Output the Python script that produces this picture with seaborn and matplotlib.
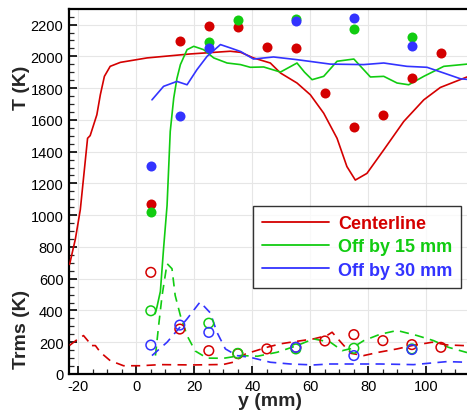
import numpy as np
import pandas as pd
import matplotlib
matplotlib.use("Agg")
import matplotlib.pyplot as plt
from matplotlib.lines import Line2D
from matplotlib.ticker import MultipleLocator
import seaborn as sns

# ---------------- data ----------------
# measured mean temperature T (filled symbols)
x_red_pts = [5, 15, 25, 35, 45, 55, 65, 75, 85, 95, 105]
T_red_pts = [1070, 2095, 2193, 2183, 2057, 2051, 1770, 1555, 1629, 1864, 2020]
x_grn_pts = [5, 25, 35, 55, 75, 95]
T_grn_pts = [1018, 2089, 2229, 2235, 2172, 2124]
x_blu_pts = [5, 15, 25, 55, 75, 95]
T_blu_pts = [1312, 1627, 2051, 2221, 2242, 2064]

# measured Trms (open symbols)
Trms_red_pts = [640, 283, 147, 128, 158, 168, 208, 248, 210, 185, 168]
Trms_grn_pts = [398, 320, 130, 158, 162, 158]
Trms_blu_pts = [182, 308, 262, 168, 116, 154]

# computed mean T (solid lines)
x_red_T = [-23, -21, -19.3, -16.8, -15.9, -13.6, -12.4, -11, -9, -5.5, 3.7, 18.6,
           32.4, 36, 40.4, 46.2, 49.7, 55.4, 60, 64.6, 69.2, 72.6, 75.5, 79.5,
           85.3, 92.2, 99.1, 104.8, 114]
T_red_T = [690, 850, 1035, 1484, 1501, 1632, 1758, 1874, 1937, 1962, 1990, 2015,
           2032, 2025, 1990, 1958, 1895, 1832, 1758, 1642, 1484, 1306, 1221, 1263,
           1411, 1590, 1726, 1804, 1870]
x_grn_T = [6.5, 7.1, 8.3, 9.4, 10.6, 11.7, 12.9, 14, 15.2, 17.5, 19.8, 23.2, 26.7,
           31.3, 35.9, 39.3, 43.9, 49.7, 55.4, 58, 60.6, 64.6, 69.2, 75, 80.7,
           85.3, 89.9, 93.9, 99.1, 106, 114]
T_grn_T = [380, 420, 520, 790, 1060, 1527, 1737, 1860, 1948, 2042, 2063, 2042, 1990,
           1958, 1948, 1931, 1933, 1901, 1958, 1900, 1853, 1874, 1969, 1983, 1870,
           1874, 1832, 1821, 1874, 1937, 1951]
x_blu_T = [5.4, 9.4, 14, 17.5, 20.9, 24.4, 29, 32.4, 36, 40.4, 47.3, 55.4, 66.9,
           78.4, 85.3, 93.3, 100.2, 106, 111.7, 114]
T_blu_T = [1726, 1811, 1842, 1821, 1916, 2000, 2074, 2053, 2030, 1983, 1996, 1979,
           1951, 1948, 1958, 1937, 1931, 1895, 1859, 1855]

# computed Trms (dashed lines)
x_red_rms = [-23, -20.5, -18.2, -16.5, -15.9, -14.1, -12.4, -9, -4.4, 1.4, 8.3,
             19.8, 30, 33.6, 37.6, 45, 49.7, 55, 61.1, 65.7, 67.5, 71, 74, 78.4,
             83.6, 89.9, 95.1, 102, 107.1, 114]
T_red_rms = [180, 215, 242, 205, 179, 179, 137, 84, 52, 52, 59, 57, 60, 75, 126,
             168, 190, 205, 221, 242, 263, 190, 130, 116, 137, 158, 179, 200, 183, 178]
x_grn_rms = [6.6, 7.7, 8.9, 10.6, 12.3, 13.4, 15.2, 17.5, 20.3, 24.4, 30.1, 35.9,
             41.8, 48.6, 55.4, 61.1, 66.9, 71, 74, 78.4, 84, 89.9, 96.8, 102.5,
             107.6, 114]
T_grn_rms = [116, 305, 495, 695, 663, 495, 368, 242, 145, 100, 99, 116, 112, 137,
             179, 221, 200, 147, 160, 210, 250, 274, 242, 210, 168, 135]
x_blu_rms = [5.4, 10.6, 17.5, 21.5, 22, 25.5, 27.8, 30.7, 34.7, 39.3, 46.2, 53.1,
             61.1, 66.9, 74.9, 84.1, 95.6, 107.1, 114]
T_blu_rms = [116, 200, 347, 442, 453, 385, 263, 158, 116, 105, 74, 63, 57, 63, 63,
             63, 59, 78, 74]

labels = ["Centerline", "Off by 15 mm", "Off by 30 mm"]
colors = ["#d40000", "#11cc11", "#3333ff"]

# ---------------- style ----------------
sns.set_style("white")
plt.rcParams["font.family"] = ["Liberation Sans", "DejaVu Sans"]
plt.rcParams["axes.unicode_minus"] = False

fig = plt.figure(figsize=(4.67, 4.14), dpi=100)
ax = fig.add_axes([69 / 467, 39 / 414, 398 / 467, 365 / 414])

dash = (0, (5.5, 3.8))
series = [
    (x_red_T, T_red_T, x_red_rms, T_red_rms, x_red_pts, T_red_pts, x_red_pts, Trms_red_pts),
    (x_grn_T, T_grn_T, x_grn_rms, T_grn_rms, x_grn_pts, T_grn_pts, x_grn_pts, Trms_grn_pts),
    (x_blu_T, T_blu_T, x_blu_rms, T_blu_rms, x_blu_pts, T_blu_pts, x_blu_pts, Trms_blu_pts),
]

for (xl, yl, xd, yd, xp, yp, xo, yo), c in zip(series, colors):
    sns.lineplot(x=xl, y=yl, color=c, lw=1.2, ax=ax, zorder=3)
    sns.lineplot(x=xd, y=yd, color=c, lw=1.2, linestyle=dash, ax=ax, zorder=3)

for (xl, yl, xd, yd, xp, yp, xo, yo), c in zip(series, colors):
    sns.scatterplot(x=xo, y=yo, color=c, facecolor="none", edgecolor=c,
                    linewidth=1.1, s=48, ax=ax, zorder=4)
for (xl, yl, xd, yd, xp, yp, xo, yo), c in zip(series, colors):
    sns.scatterplot(x=xp, y=yp, color=c, edgecolor=c, linewidth=0.0,
                    s=52, ax=ax, zorder=5)

ax.set_xlim(-23.2, 114.0)
ax.set_ylim(0, 2298)
ax.xaxis.set_major_locator(MultipleLocator(20))
ax.xaxis.set_minor_locator(MultipleLocator(5))
ax.yaxis.set_major_locator(MultipleLocator(200))
ax.yaxis.set_minor_locator(MultipleLocator(50))
ax.grid(True, which="major", color="#e6e6e6", lw=0.8, zorder=0)
ax.set_axisbelow(True)

ax.tick_params(which="major", direction="in", length=6, width=1.2,
               labelsize=10.5, pad=4, colors="black", left=True, bottom=True)
ax.tick_params(which="minor", direction="in", length=3.5, width=0.9,
               left=True, bottom=True)
ax.tick_params(axis="x", pad=3.5)

for side in ["left", "bottom", "top"]:
    ax.spines[side].set_linewidth(1.6)
    ax.spines[side].set_color("black")
ax.spines["right"].set_visible(False)

ax.set_xlabel("")
ax.set_ylabel("")

fig.text(0.0465, 0.7886, "T (K)", rotation=90, fontsize=14, fontweight="bold",
         ha="center", va="center")
fig.text(0.0471, 0.2053, "Trms (K)", rotation=90, fontsize=14, fontweight="bold",
         ha="center", va="center")
fig.text(0.578, 0.0297, "y (mm)", fontsize=14, fontweight="bold",
         ha="center", va="center")

handles = [Line2D([0], [0], color=c, lw=1.3) for c in colors]
leg = ax.legend(handles, labels, loc="upper left",
                bbox_to_anchor=(253 / 467, 1 - 207 / 414),
                bbox_transform=fig.transFigure, borderaxespad=0,
                frameon=True, fancybox=False, edgecolor="black",
                prop={"weight": "bold", "size": 13},
                handlelength=3.7, handletextpad=0.5, labelspacing=0.35,
                borderpad=0.5)
leg.get_frame().set_linewidth(1.0)
for t, c in zip(leg.get_texts(), colors):
    t.set_color(c)

fig.savefig("out.png", dpi=100)
